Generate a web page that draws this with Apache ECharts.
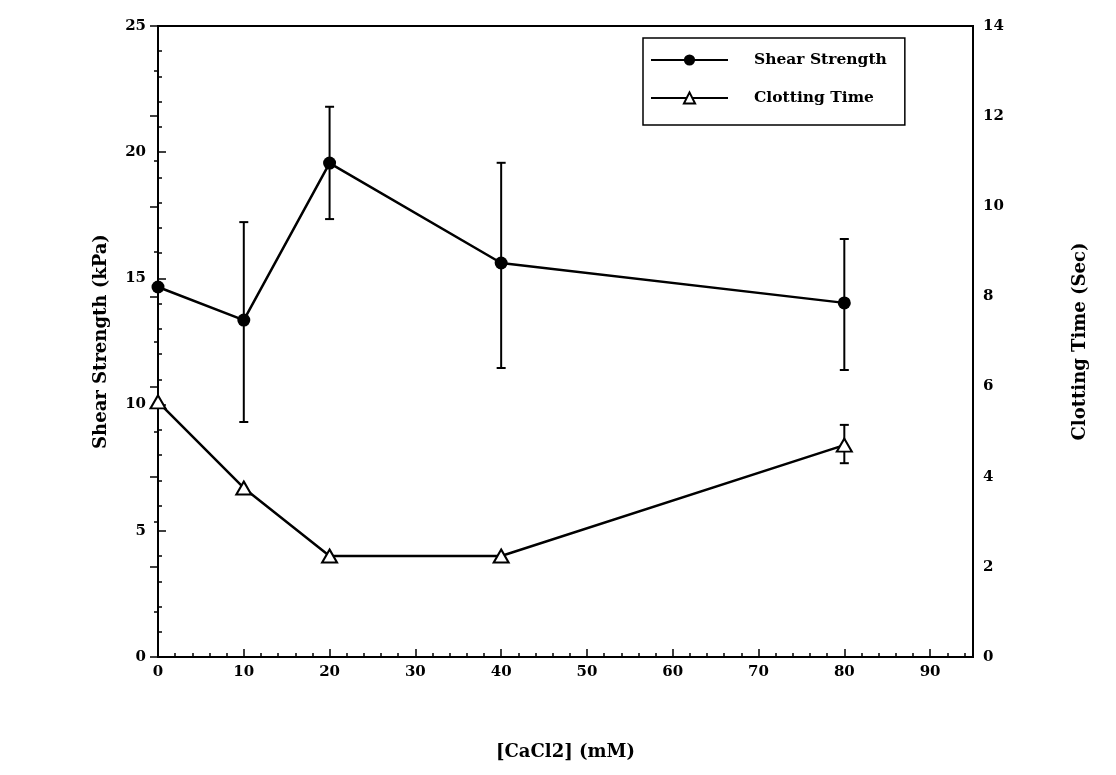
<!DOCTYPE html>
<html>
<head>
<meta charset="utf-8">
<script src="https://cdn.jsdelivr.net/npm/echarts@6/dist/echarts.min.js"></script>
<style>
html,body{margin:0;padding:0;background:#fff;}
#chart{width:1116px;height:775px;}
</style>
</head>
<body>
<div id="chart"></div>
<script>
const concentrations = [0, 10, 20, 40, 80];
const shearStrength = [14.66, 13.35, 19.57, 15.61, 14.03];
const shearUpper = [null, 17.23, 21.8, 19.58, 16.56];
const shearLower = [null, 9.31, 17.35, 11.45, 11.37];
const clottingTime = [5.66, 3.75, 2.24, 2.24, 4.70];
const clottingUpper = [null, null, null, null, 5.15];
const clottingLower = [null, null, null, null, 4.30];
const xTickLabels = [0, 10, 20, 30, 40, 50, 60, 70, 80, 90];

const FONT = 'DejaVu Serif';
const chart = echarts.init(document.getElementById('chart'));

function pairs(xs, ys) { return xs.map((x, i) => [x, ys[i]]); }
function errData(xs, lo, hi) {
  const out = [];
  xs.forEach((x, i) => { if (lo[i] != null && hi[i] != null) out.push([x, lo[i], hi[i]]); });
  return out;
}
function errRender(params, api) {
  const x = api.value(0);
  const pLo = api.coord([x, api.value(1)]);
  const pHi = api.coord([x, api.value(2)]);
  const cap = 4.5;
  const st = { stroke: '#000', lineWidth: 2 };
  return {
    type: 'group',
    children: [
      { type: 'line', shape: { x1: pLo[0], y1: pLo[1], x2: pHi[0], y2: pHi[1] }, style: st },
      { type: 'line', shape: { x1: pLo[0] - cap, y1: pLo[1], x2: pLo[0] + cap, y2: pLo[1] }, style: st },
      { type: 'line', shape: { x1: pHi[0] - cap, y1: pHi[1], x2: pHi[0] + cap, y2: pHi[1] }, style: st }
    ]
  };
}

const labelStyle = { color: '#000', fontFamily: FONT, fontWeight: 'bold', fontSize: 15 };
const nameStyle = { color: '#000', fontFamily: FONT, fontWeight: 'bold', fontSize: 18 };

chart.setOption({
  animation: false,
  backgroundColor: '#fff',
  grid: { left: 158, right: 143, top: 26, bottom: 118, show: true, borderColor: '#000', borderWidth: 2, backgroundColor: 'transparent' },
  legend: {
    orient: 'vertical',
    left: 643, top: 38,
    padding: [14, 18, 19, 7],
    itemWidth: 77, itemHeight: 14, itemGap: 22,
    borderColor: '#000', borderWidth: 1.5,
    textStyle: { color: '#000', fontFamily: FONT, fontWeight: 'bold', fontSize: 15.5, padding: [0, 0, 0, 21] },
    data: ['Shear Strength', 'Clotting Time']
  },
  xAxis: [
    {
      type: 'value', min: 0, max: 95, interval: 10, position: 'bottom',
      name: '[CaCl2] (mM)', nameLocation: 'middle', nameGap: 86, nameTextStyle: nameStyle,
      axisLine: { show: true, lineStyle: { color: '#000', width: 2 } },
      axisTick: { show: true, inside: true, length: 8, lineStyle: { color: '#000', width: 1.5 } },
      axisLabel: { margin: 8, ...labelStyle, formatter: v => (xTickLabels.indexOf(v) >= 0 ? String(v) : '') },
      splitLine: { show: false }
    },
    {
      type: 'value', min: 0, max: 95, interval: 2, position: 'bottom',
      axisLine: { show: false },
      axisTick: { show: true, inside: true, length: 4, lineStyle: { color: '#000', width: 1.5 } },
      axisLabel: { show: false },
      splitLine: { show: false }
    }
  ],
  yAxis: [
    {
      type: 'value', min: 0, max: 25, interval: 5, position: 'left',
      name: 'Shear Strength (kPa)', nameLocation: 'middle', nameGap: 48, nameTextStyle: nameStyle,
      axisLine: { show: true, lineStyle: { color: '#000', width: 2 } },
      axisTick: { show: true, inside: true, length: 8, lineStyle: { color: '#000', width: 1.5 } },
      minorTick: { show: true, splitNumber: 5, length: 4, lineStyle: { color: '#000', width: 1.5 } },
      axisLabel: { margin: 12, ...labelStyle },
      splitLine: { show: false }
    },
    {
      type: 'value', min: 0, max: 14, interval: 2, position: 'right',
      name: 'Clotting Time (Sec)', nameLocation: 'middle', nameGap: 98, nameTextStyle: nameStyle,
      axisLine: { show: true, lineStyle: { color: '#000', width: 2 } },
      axisTick: { show: true, inside: true, length: 8, lineStyle: { color: '#000', width: 1.5 } },
      minorTick: { show: true, splitNumber: 2, length: 4, lineStyle: { color: '#000', width: 1.5 } },
      axisLabel: { margin: 10, ...labelStyle },
      splitLine: { show: false }
    }
  ],
  series: [
    {
      name: 'Shear Strength', type: 'line', xAxisIndex: 0, yAxisIndex: 0,
      data: pairs(concentrations, shearStrength),
      symbol: 'circle', symbolSize: 13,
      itemStyle: { color: '#000' },
      lineStyle: { color: '#000', width: 2.5 },
      z: 5
    },
    {
      name: 'Clotting Time', type: 'line', xAxisIndex: 0, yAxisIndex: 1,
      data: pairs(concentrations, clottingTime),
      symbol: 'triangle', symbolSize: [15, 13],
      itemStyle: { color: '#fff', borderColor: '#000', borderWidth: 2 },
      lineStyle: { color: '#000', width: 2.5 },
      z: 5
    },
    {
      type: 'custom', xAxisIndex: 0, yAxisIndex: 0,
      data: errData(concentrations, shearLower, shearUpper),
      renderItem: errRender, z: 3, silent: true
    },
    {
      type: 'custom', xAxisIndex: 0, yAxisIndex: 1,
      data: errData(concentrations, clottingLower, clottingUpper),
      renderItem: errRender, z: 3, silent: true
    }
  ]
});
</script>
</body>
</html>
